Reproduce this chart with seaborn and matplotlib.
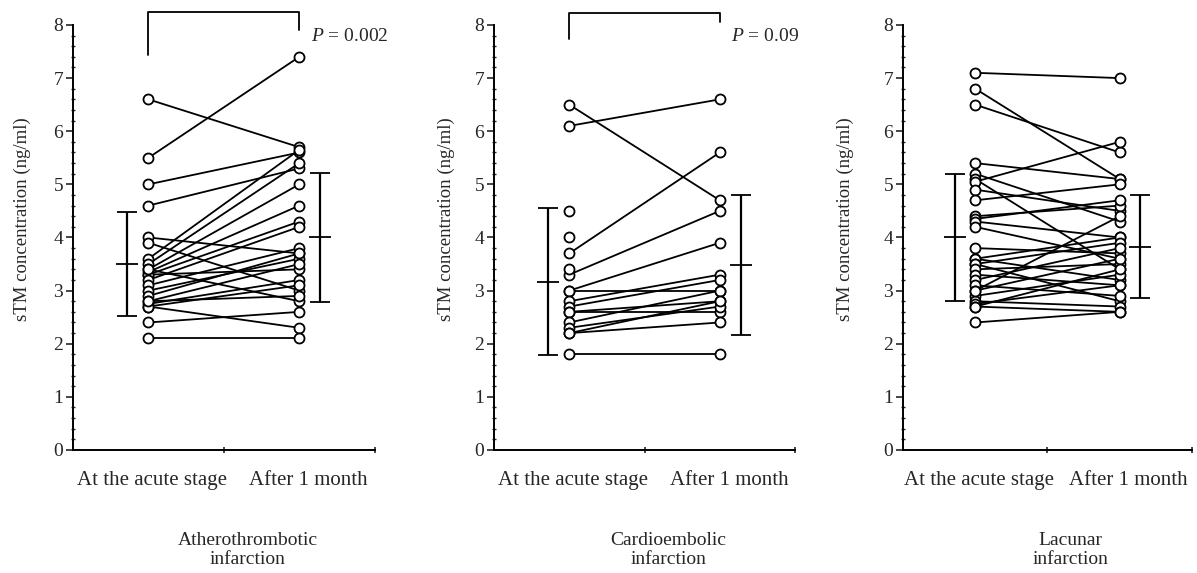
import numpy as np
import pandas as pd
import matplotlib
matplotlib.use('Agg')
import matplotlib.pyplot as plt
from matplotlib.ticker import MultipleLocator
import seaborn as sns

# categories / labels
stages = ['At the acute stage', 'After 1 month']
panel_titles = ['Atherothrombotic\ninfarction', 'Cardioembolic\ninfarction', 'Lacunar\ninfarction']
p_values = ['0.002', '0.09', None]

# sTM per patient (ng/ml); nan = no follow-up value
athero_acute = [6.6, 5.5, 5.0, 4.6, 4.0, 3.9, 3.6, 3.5, 3.4, 3.35, 3.3, 3.3,
                3.2, 3.4, 3.1, 3.0, 2.9, 2.8, 2.75, 2.7, 2.7, 2.8, 2.4, 2.1]
athero_after = [5.7, 7.4, 5.6, 5.3, 3.7, 3.0, 5.65, 5.4, 5.0, 4.6, 4.3, 3.4,
                4.2, 2.8, 3.8, 3.6, 3.7, 3.5, 3.2, 3.1, 2.3, 2.9, 2.6, 2.1]

cardio_acute = [6.1, 6.5, 3.7, 3.3, 3.0, 3.0, 2.8, 2.7, 2.6, 2.6, 2.4, 2.3,
                2.2, 2.2, 1.8, 4.5, 4.0, 3.4]
cardio_after = [6.6, 4.7, 5.6, 4.5, 3.9, 3.0, 3.3, 3.2, 2.8, 2.6, 3.0, 2.7,
                2.4, 2.8, 1.8, np.nan, np.nan, np.nan]

lacunar_acute = [7.1, 6.8, 6.5, 5.4, 5.2, 5.1, 5.05, 4.9, 4.7, 4.4, 4.35, 4.3,
                 4.2, 3.8, 3.6, 3.6, 3.5, 3.5, 3.4, 3.3, 3.2, 3.1, 3.0, 2.9,
                 2.8, 2.75, 2.7, 2.7, 2.4, 3.0]
lacunar_after = [7.0, 5.1, 5.6, 5.1, 4.3, 3.4, 5.8, 4.5, 5.0, 4.6, 4.7, 4.0,
                 3.6, 3.7, 4.0, 3.2, 3.9, 2.8, 3.5, 3.1, 3.8, 2.9, 3.6, 3.3,
                 2.7, 3.1, 2.6, 3.4, 2.6, 4.4]

# mean +/- SD bars as drawn
mean_acute = [3.5, 3.17, 4.0]
sd_acute = [0.98, 1.38, 1.2]
mean_after = [4.0, 3.48, 3.83]
sd_after = [1.22, 1.32, 0.97]

groups = [(athero_acute, athero_after), (cardio_acute, cardio_after),
          (lacunar_acute, lacunar_after)]

sns.set_style('ticks')
plt.rcParams['font.family'] = ['Liberation Serif', 'DejaVu Serif']
plt.rcParams['mathtext.fontset'] = 'custom'
plt.rcParams['mathtext.it'] = 'Liberation Serif:italic'
plt.rcParams['mathtext.rm'] = 'Liberation Serif'

W, H = 1197, 573
fig = plt.figure(figsize=(W / 100, H / 100), dpi=100)
axes_pos = [[0.061, 0.2147, 0.252, 0.7417],
            [0.4127, 0.2147, 0.2515, 0.7417],
            [0.7544, 0.2147, 0.2414, 0.7417]]
ylabel_px = [31, 455, 854]
brackets = [(7.44, 8.24, 7.91), (7.74, 8.23, 8.06), None]

for i, (acute, after) in enumerate(groups):
    ax = fig.add_axes(axes_pos[i])
    n = len(acute)
    df = pd.DataFrame({
        'subject': list(range(n)) * 2,
        'x': [1] * n + [3] * n,
        'value': list(acute) + list(after),
    }).dropna()

    sns.lineplot(data=df, x='x', y='value', units='subject', estimator=None,
                 color='black', lw=1.3, ax=ax, legend=False, zorder=2)
    sns.scatterplot(data=df, x='x', y='value', ax=ax, s=52, marker='o',
                    facecolor='white', edgecolor='black', linewidth=1.3,
                    zorder=3, legend=False)

    # mean +/- SD
    ax.errorbar([0.72], [mean_acute[i]], yerr=[sd_acute[i]], fmt='_',
                color='black', ms=16, mew=1.3, elinewidth=1.6, capsize=7,
                capthick=1.6, zorder=4)
    ax.errorbar([3.28], [mean_after[i]], yerr=[sd_after[i]], fmt='_',
                color='black', ms=16, mew=1.3, elinewidth=1.6, capsize=7,
                capthick=1.6, zorder=4)

    if brackets[i] is not None:
        lo_l, top, lo_r = brackets[i]
        ax.plot([1, 1, 3, 3], [lo_l, top, top, lo_r], color='black', lw=1.3,
                clip_on=False)
        ax.text(3.15, 7.78, r'$P$' + ' = ' + p_values[i], fontsize=14,
                ha='left', va='center')

    ax.set_xlim(0, 4)
    ax.set_ylim(0, 8)
    ax.set_xticks([2, 4])
    ax.set_xticklabels([])
    ax.set_xticks([1.05, 3.12], stages, minor=True)
    ax.tick_params(axis='x', which='minor', length=0, pad=15, labelsize=15)
    ax.tick_params(axis='x', which='major', length=5, width=1.2, direction='inout')
    ax.yaxis.set_major_locator(MultipleLocator(1))
    ax.yaxis.set_minor_locator(MultipleLocator(0.2))
    ax.tick_params(axis='y', which='major', length=5, width=1.2, labelsize=14, pad=2)
    ax.tick_params(axis='y', which='minor', length=2.5, width=1.0, direction='inout')
    ax.set_xlabel('')
    ax.set_ylabel('sTM concentration (ng/ml)', fontsize=13.5)
    left_px = axes_pos[i][0] * W
    ax.yaxis.set_label_coords((ylabel_px[i] - left_px) / (axes_pos[i][2] * W),
                              (450 - 219) / 425)
    for s in ['top', 'right']:
        ax.spines[s].set_visible(False)
    for s in ['left', 'bottom']:
        ax.spines[s].set_linewidth(1.4)
        ax.spines[s].set_color('black')

    ax.text(0.58, -0.235, panel_titles[i], transform=ax.transAxes,
            ha='center', va='center', fontsize=14, linespacing=1.2)

fig.savefig('out.png', dpi=100, facecolor='white')
